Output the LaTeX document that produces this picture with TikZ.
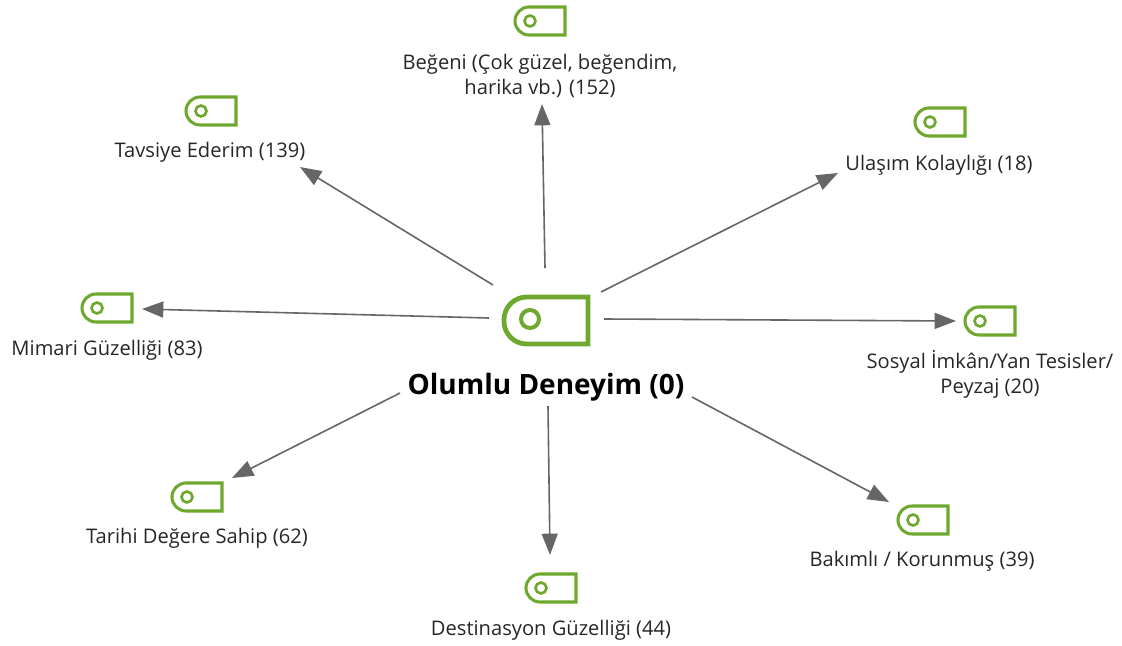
\documentclass[tikz,border=0pt]{standalone}
\usepackage{fontspec}
\setmainfont{Open Sans}
\usetikzlibrary{arrows.meta}
\definecolor{taggreen}{HTML}{6FA82F}
\definecolor{arrgray}{HTML}{666666}
\tikzset{
  x=0.75pt,y=-0.75pt,
  lbl/.style={inner sep=0pt,align=center,font=\fontsize{15.1pt}{18.6pt}\selectfont,text=black!85},
  hublbl/.style={inner sep=0pt,align=center,font=\fontsize{21pt}{24pt}\selectfont\bfseries,text=black},
  tagnode/.style={inner sep=0pt,minimum width=39pt,minimum height=22pt,draw=none},
  hubnode/.style={inner sep=0pt,minimum width=65pt,minimum height=37pt,draw=none},
  arr/.style={draw=arrgray,line width=1.2pt,-{Triangle[length=16pt,width=12pt]}},
}
\newcommand{\tagicon}[3]{% name, x, y
  \node[tagnode] (#1) at (#2,#3) {};
  \draw[taggreen,line width=2.3pt,line join=miter] (#2+25,#3-14) [rounded corners=10.5pt] -- (#2-25,#3-14) -- (#2-25,#3+14) [sharp corners] -- (#2+25,#3+14) -- cycle;
  \draw[taggreen,line width=2pt] (#2-10,#3) circle[radius=5.5];
}
\begin{document}
\begin{tikzpicture}
\useasboundingbox (0,0) rectangle (1122,646);
% hub
\node[hubnode] (hub) at (546,320) {};
\draw[taggreen,line width=3.6pt] (588,297) [rounded corners=17pt] -- (504,297) -- (504,344) [sharp corners] -- (588,344) -- cycle;
\draw[taggreen,line width=3pt] (530,319) circle[radius=9];
\node[hublbl] (hubl) at (546,387) {Olumlu Deneyim (0)};
% leaves
\tagicon{i1}{540}{21}
\node[lbl] (l1) at (540,76) {Beğeni (Çok güzel, beğendim,\\harika vb.) (152)};
\tagicon{i2}{211}{111}
\node[lbl] (l2) at (210,152) {Tavsiye Ederim (139)};
\tagicon{i3}{940}{122}
\node[lbl] (l3) at (939,165) {Ulaşım Kolaylığı (18)};
\tagicon{i4}{107}{308}
\node[lbl] (l4) at (107,350) {Mimari Güzelliği (83)};
\tagicon{i5}{990}{321}
\node[lbl] (l5) at (990,374) {Sosyal İmkân/Yan Tesisler/\\Peyzaj (20)};
\tagicon{i6}{197}{497}
\node[lbl] (l6) at (197,538) {Tarihi Değere Sahip (62)};
\tagicon{i7}{551}{588}
\node[lbl] (l7) at (551,630) {Destinasyon Güzelliği (44)};
\tagicon{i8}{923}{520}
\node[lbl] (l8) at (922,561) {Bakımlı / Korunmuş (39)};
% connectors: offsets keep the reference's exact end points
\draw[arr] ([shift={(-1,-52)}]hub.center) -- ([shift={(2,28)}]l1.center);
\draw[arr] ([shift={(-53,-35)}]hub.center) -- ([shift={(90,15)}]l2.center);
\draw[arr] ([shift={(55,-28)}]hub.center) -- ([shift={(-101,8)}]l3.center);
\draw[arr] ([shift={(-57,-2)}]hub.center) -- ([shift={(35,1)}]i4.center);
\draw[arr] ([shift={(58,-1)}]hub.center) -- ([shift={(-34,0)}]i5.center);
\draw[arr] ([shift={(-146,6)}]hubl.center) -- ([shift={(35,-19)}]i6.center);
\draw[arr] ([shift={(2,19)}]hubl.center) -- ([shift={(-1,-33)}]i7.center);
\draw[arr] ([shift={(146,10)}]hubl.center) -- ([shift={(-34,-18)}]i8.center);
\end{tikzpicture}
\end{document}
